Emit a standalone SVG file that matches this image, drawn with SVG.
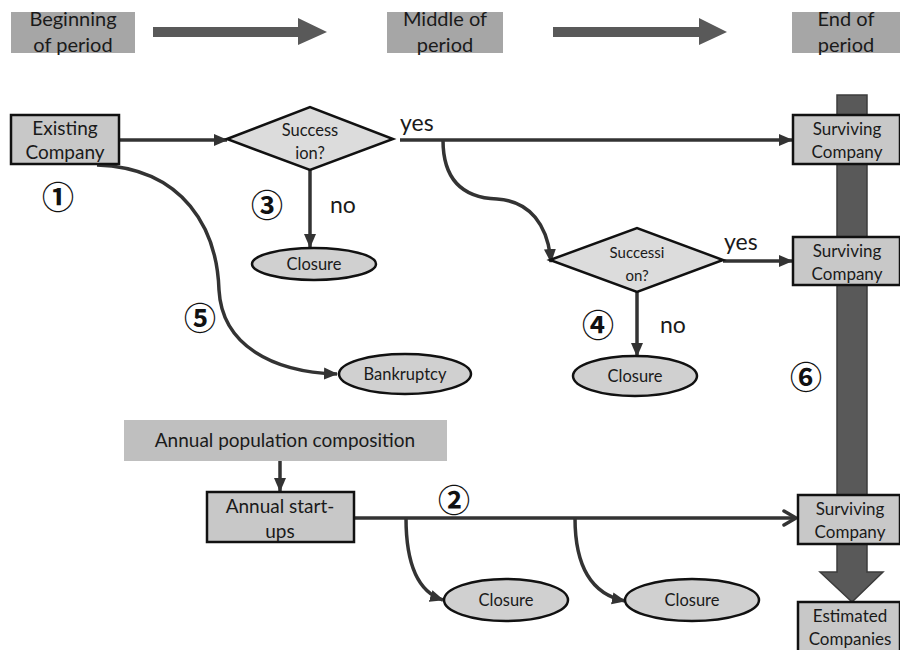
<svg xmlns="http://www.w3.org/2000/svg" width="900" height="650" viewBox="0 0 900 650">
<style>
  .hdr{fill:#a6a6a6}
  .hdrt{font-family:Lato,"Open Sans",sans-serif;font-size:20px;fill:#1a1a1a;text-anchor:middle}
  .box{fill:#c8c8c8;stroke:#111;stroke-width:2.5}
  .dia{fill:#dcdcdc;stroke:#111;stroke-width:2.5}
  .ell{fill:#d0d0d0;stroke:#111;stroke-width:2.5}
  .t17{font-family:Lato,"Open Sans",sans-serif;font-size:19px;fill:#1a1a1a;text-anchor:middle}
  .t15{font-family:Lato,"Open Sans",sans-serif;font-size:17px;fill:#1a1a1a;text-anchor:middle}
  .t14{font-family:Lato,"Open Sans",sans-serif;font-size:16.5px;fill:#1a1a1a;text-anchor:middle}
  .t13{font-family:Lato,"Open Sans",sans-serif;font-size:15px;fill:#1a1a1a;text-anchor:middle}
  .lbl{font-family:Lato,"Open Sans",sans-serif;font-size:23px;fill:#1a1a1a}
  .num{font-family:"Noto Sans CJK JP","DejaVu Sans",sans-serif;font-size:32px;font-weight:bold;fill:#111;text-anchor:middle}
  .con{fill:none;stroke:#333;stroke-width:3.5}
</style>
<defs>
  <marker id="ah" markerUnits="userSpaceOnUse" markerWidth="14" markerHeight="14" viewBox="0 0 14 14" refX="13" refY="7" orient="auto">
    <path d="M0,1 L14,7 L0,13 Z" fill="#333"/>
  </marker>
  <marker id="ao" markerUnits="userSpaceOnUse" markerWidth="16" markerHeight="18" viewBox="0 0 16 18" refX="14" refY="9" orient="auto">
    <path d="M2,2 L14,9 L2,16" fill="none" stroke="#333" stroke-width="3.5" stroke-linecap="round" stroke-linejoin="round"/>
  </marker>
</defs>

<!-- header -->
<g id="header">
  <rect class="hdr" x="11" y="12" width="124" height="41"/>
  <text class="hdrt" x="73" y="26">Beginning</text>
  <text class="hdrt" x="73" y="52">of period</text>
  <rect class="hdr" x="387" y="12" width="116" height="41"/>
  <text class="hdrt" x="445" y="26">Middle of</text>
  <text class="hdrt" x="445" y="52">period</text>
  <rect class="hdr" x="792" y="12" width="108" height="41"/>
  <text class="hdrt" x="846" y="26">End of</text>
  <text class="hdrt" x="846" y="52">period</text>
  <polygon points="153,27 298,27 298,18 327,32 298,45 298,37 153,37" fill="#595959"/>
  <polygon points="553,27 699,27 699,18 727,32 699,45 699,37 553,37" fill="#595959"/>
</g>

<!-- big vertical arrow -->
<g id="timeline">
  <polygon points="837,95 867,95 867,572 883,572 852,602 820,572 837,572" fill="#595959" stroke="#3c3c3c" stroke-width="1.5"/>
</g>

<!-- connectors -->
<g id="connectors">
  <line class="con" x1="119" y1="140" x2="227" y2="140" marker-end="url(#ah)"/>
  <line class="con" x1="310" y1="170" x2="310" y2="247" marker-end="url(#ah)"/>
  <path class="con" d="M97,165 C185,168 217,230 219,290 C222,345 272,372 337,374" marker-end="url(#ah)"/>
  <line class="con" x1="400" y1="140" x2="792" y2="140" marker-end="url(#ah)"/>
  <path class="con" d="M443,140 C443,185 468,198 497,199 C530,201 548,225 551,262" marker-end="url(#ah)"/>
  <line class="con" x1="723" y1="261" x2="792" y2="261" marker-end="url(#ah)"/>
  <line class="con" x1="637" y1="292" x2="637" y2="356" marker-end="url(#ah)"/>
  <line class="con" x1="280" y1="461" x2="280" y2="491" marker-end="url(#ah)"/>
  <line class="con" x1="354" y1="518" x2="796" y2="518" marker-end="url(#ao)"/>
  <path class="con" d="M406,518 C406,565 418,592 443,600" marker-end="url(#ah)"/>
  <path class="con" d="M575,518 C575,565 590,594 625,601" marker-end="url(#ah)"/>
</g>

<g id="existing">
  <rect class="box" x="11" y="115" width="108" height="49"/>
  <text class="t17" x="65" y="135">Existing</text>
  <text class="t17" x="65" y="159">Company</text>
</g>

<g id="succession1">
  <polygon class="dia" points="227,139 310,107 393,139 310,170"/>
  <text class="t14" x="310" y="136">Success</text>
  <text class="t14" x="310" y="159">ion?</text>
</g>

<g id="closure1">
  <ellipse class="ell" cx="314" cy="264" rx="62" ry="16"/>
  <text class="t14" x="314" y="270">Closure</text>
</g>

<g id="bankruptcy">
  <ellipse class="ell" cx="405" cy="374" rx="66" ry="20"/>
  <text class="t14" x="405" y="380">Bankruptcy</text>
</g>

<g id="surviving1">
  <rect class="box" x="793" y="115" width="107" height="49"/>
  <text class="t15" x="847" y="135">Surviving</text>
  <text class="t15" x="847" y="158">Company</text>
</g>

<g id="succession2">
  <polygon class="dia" points="550,260 637,228 723,260 637,292"/>
  <text class="t13" x="637" y="258">Successi</text>
  <text class="t13" x="637" y="281">on?</text>
</g>

<g id="surviving2">
  <rect class="box" x="793" y="237" width="107" height="48"/>
  <text class="t15" x="847" y="257">Surviving</text>
  <text class="t15" x="847" y="280">Company</text>
</g>

<g id="closure2">
  <ellipse class="ell" cx="635" cy="376" rx="62" ry="20"/>
  <text class="t14" x="635" y="382">Closure</text>
</g>

<g id="population">
  <rect x="124" y="420" width="323" height="41" fill="#bfbfbf"/>
  <text class="t17" x="285" y="447">Annual population composition</text>
</g>

<g id="startups">
  <rect class="box" x="207" y="492" width="147" height="50"/>
  <text class="t17" x="280" y="513">Annual start-</text>
  <text class="t17" x="280" y="538">ups</text>
</g>

<g id="closure3">
  <ellipse class="ell" cx="506" cy="600" rx="62" ry="21"/>
  <text class="t14" x="506" y="606">Closure</text>
</g>

<g id="closure4">
  <ellipse class="ell" cx="692" cy="600" rx="67" ry="21"/>
  <text class="t14" x="692" y="606">Closure</text>
</g>

<g id="surviving3">
  <rect class="box" x="798" y="495" width="102" height="49"/>
  <text class="t15" x="850" y="515">Surviving</text>
  <text class="t15" x="850" y="538">Company</text>
</g>

<g id="estimated">
  <rect class="box" x="798" y="602" width="102" height="50"/>
  <text class="t15" x="850" y="622">Estimated</text>
  <text class="t15" x="850" y="645">Companies</text>
</g>

<!-- labels -->
<g id="labels">
  <text class="lbl" x="400" y="131">yes</text>
  <text class="lbl" x="724" y="250">yes</text>
  <text class="lbl" x="330" y="213">no</text>
  <text class="lbl" x="660" y="333">no</text>
  <text class="num" x="58" y="209">①</text>
  <text class="num" x="454" y="512">②</text>
  <text class="num" x="267" y="217">③</text>
  <text class="num" x="598" y="337">④</text>
  <text class="num" x="200" y="330">⑤</text>
  <text class="num" x="806" y="389">⑥</text>
</g>
</svg>
